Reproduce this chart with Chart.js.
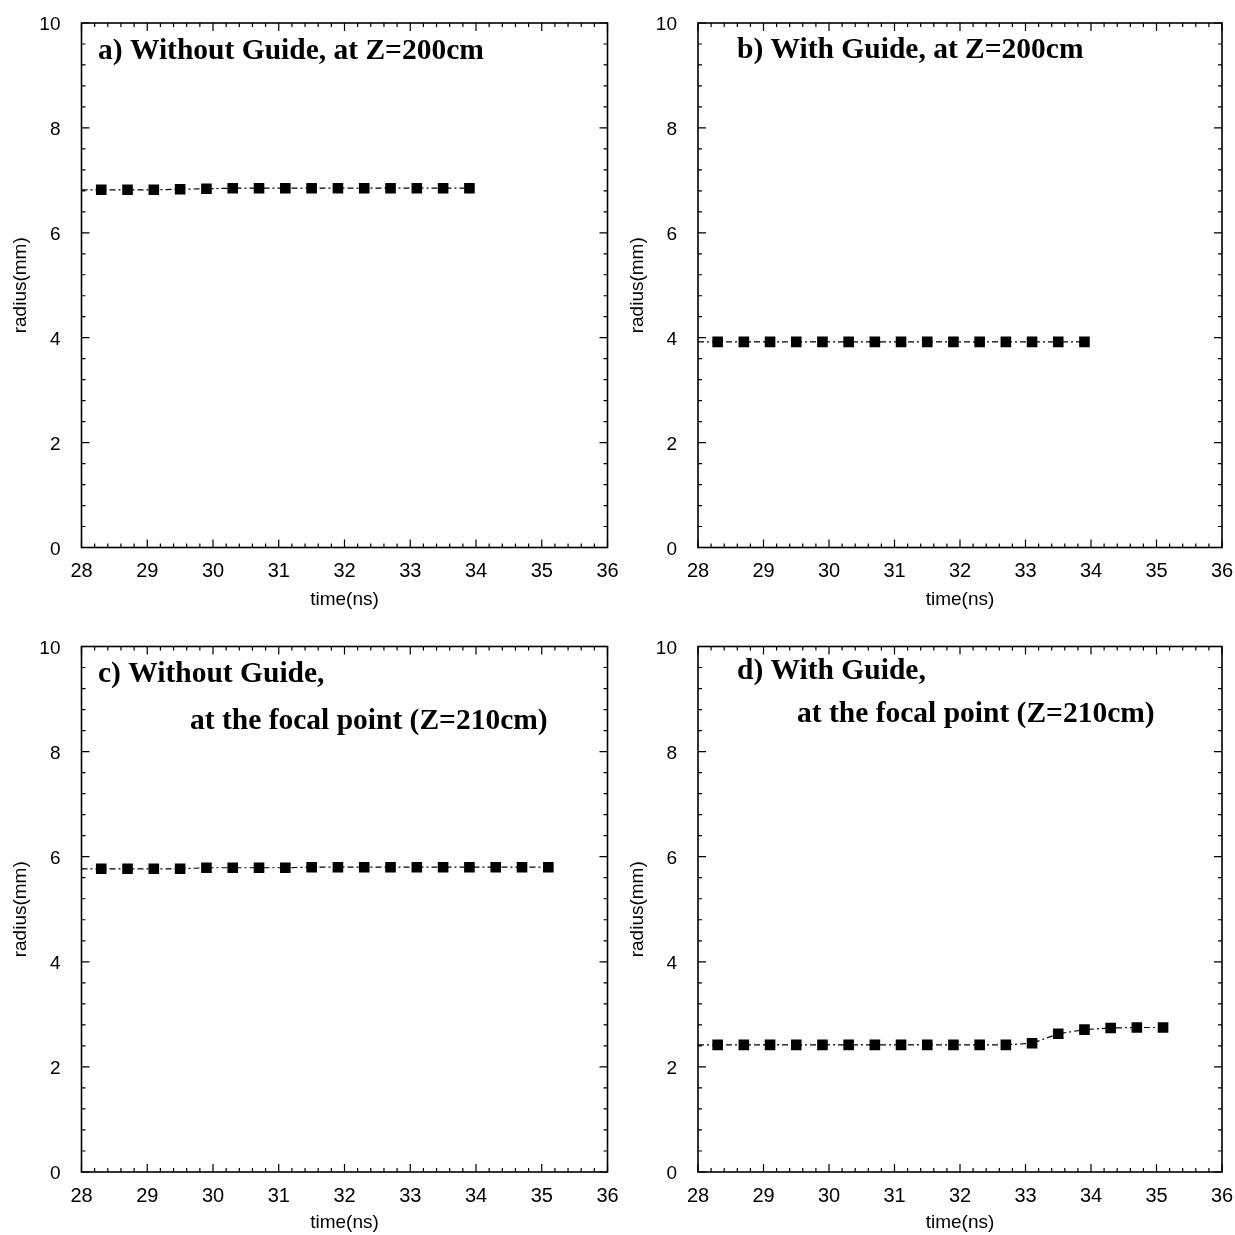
<!DOCTYPE html>
<html>
<head>
<meta charset="utf-8">
<script src="https://cdn.jsdelivr.net/npm/chart.js@4.4.0/dist/chart.umd.min.js"></script>
<style>
  body { margin: 0; background: #fff; }
  canvas { position: absolute; }
</style>
</head>
<body>
<canvas id="pa" width="635" height="617" style="left:0;top:0"></canvas>
<canvas id="pb" width="618" height="617" style="left:617px;top:0"></canvas>
<canvas id="pc" width="635" height="618" style="left:0;top:617px"></canvas>
<canvas id="pd" width="618" height="618" style="left:617px;top:617px"></canvas>
<script>
// time samples (ns); the first one sits on the axis and has no marker
const timeShort = [28.0, 28.3, 28.7, 29.1, 29.5, 29.9, 30.3, 30.7, 31.1, 31.5, 31.9, 32.3, 32.7, 33.1, 33.5, 33.9];
const timeLong = [28.0, 28.3, 28.7, 29.1, 29.5, 29.9, 30.3, 30.7, 31.1, 31.5, 31.9, 32.3, 32.7, 33.1, 33.5, 33.9, 34.3, 34.7, 35.1];

// radius (mm)
const radiusA = [6.82, 6.82, 6.82, 6.82, 6.83, 6.84, 6.85, 6.85, 6.85, 6.85, 6.85, 6.85, 6.85, 6.85, 6.85, 6.85];
const radiusB = [3.92, 3.92, 3.92, 3.92, 3.92, 3.92, 3.92, 3.92, 3.92, 3.92, 3.92, 3.92, 3.92, 3.92, 3.92, 3.92];
const radiusC = [5.77, 5.77, 5.77, 5.77, 5.77, 5.79, 5.79, 5.79, 5.79, 5.80, 5.80, 5.80, 5.80, 5.80, 5.80, 5.80, 5.80, 5.80, 5.80];
const radiusD = [2.42, 2.42, 2.42, 2.42, 2.42, 2.42, 2.42, 2.42, 2.42, 2.42, 2.42, 2.42, 2.42, 2.45, 2.63, 2.71, 2.74, 2.75, 2.75];

const xTicks = [28, 29, 30, 31, 32, 33, 34, 35, 36];
const yTicks = [0, 2, 4, 6, 8, 10];

const titleA = ["a) Without Guide, at Z=200cm"];
const titleB = ["b) With Guide, at Z=200cm"];
const titleC = ["c) Without Guide,", "at the focal point (Z=210cm)"];
const titleD = ["d) With Guide,", "at the focal point (Z=210cm)"];

const sans = '"Liberation Sans", Arial, sans-serif';

// frame + inward ticks on all four sides
const boxTicks = {
    id: 'boxTicks',
    afterDraw(chart) {
        const {ctx, chartArea: a, scales: {x, y}} = chart;
        ctx.save();
        ctx.strokeStyle = '#000';
        ctx.lineWidth = 1.2;
        ctx.beginPath();
        for (let i = 0; i <= 40; i++) {
            const px = x.getPixelForValue(28 + i * 0.2);
            const len = i % 5 === 0 ? 8 : 4;
            ctx.moveTo(px, a.bottom); ctx.lineTo(px, a.bottom - len);
            ctx.moveTo(px, a.top); ctx.lineTo(px, a.top + len);
        }
        for (let i = 0; i <= 25; i++) {
            const py = y.getPixelForValue(i * 0.4);
            const len = i % 5 === 0 ? 8 : 4;
            ctx.moveTo(a.left, py); ctx.lineTo(a.left + len, py);
            ctx.moveTo(a.right, py); ctx.lineTo(a.right - len, py);
        }
        ctx.stroke();
        ctx.lineWidth = 1.6;
        ctx.strokeRect(a.left, a.top, a.right - a.left, a.bottom - a.top);
        ctx.restore();
    }
};

const panelText = {
    id: 'panelText',
    afterDraw(chart, args, opts) {
        const ctx = chart.ctx;
        ctx.save();
        ctx.fillStyle = '#000';
        ctx.font = 'bold 29.5px "Liberation Serif", "Times New Roman", serif';
        ctx.textBaseline = 'alphabetic';
        opts.lines.forEach((t, i) => {
            ctx.fillText(t, opts.pos[i][0], opts.pos[i][1]);
        });
        ctx.restore();
    }
};

function makePanel(id, times, radius, lines, pos, box) {
    const cv = document.getElementById(id);
    const W = cv.width, H = cv.height;
    new Chart(cv, {
        type: 'line',
        data: {
            datasets: [{
                data: times.map((t, i) => ({x: t, y: radius[i]})),
                borderColor: '#000',
                backgroundColor: '#000',
                borderWidth: 1.2,
                borderDash: [6, 3, 2, 3],
                pointStyle: 'rect',
                pointRadius: ctx => ctx.dataIndex === 0 ? 0 : 7.5,
                pointBorderWidth: 0,
                tension: 0
            }]
        },
        options: {
            responsive: false,
            animation: false,
            events: [],
            layout: { padding: { left: 0, top: box.top, right: W - box.right, bottom: 0 } },
            plugins: {
                legend: { display: false },
                tooltip: { enabled: false },
                panelText: { lines: lines, pos: pos }
            },
            scales: {
                x: {
                    type: 'linear',
                    min: 28, max: 36,
                    afterBuildTicks: s => { s.ticks = xTicks.map(v => ({value: v})); },
                    afterFit: s => { s.height = H - box.bottom; s.paddingLeft = 0; s.paddingRight = 0; },
                    grid: { display: false },
                    border: { display: false },
                    ticks: { color: '#000', padding: 4, font: { family: sans, size: 20 } },
                    title: { display: true, text: 'time(ns)', color: '#000', padding: { top: 0, bottom: box.xTitlePad },
                             font: { family: sans, size: 19 } }
                },
                y: {
                    min: 0, max: 10,
                    afterBuildTicks: s => { s.ticks = yTicks.map(v => ({value: v})); },
                    afterFit: s => { s.width = box.left; s.paddingTop = 0; s.paddingBottom = 0; },
                    grid: { display: false },
                    border: { display: false },
                    ticks: { color: '#000', padding: 13, labelOffset: 2, font: { family: sans, size: 19 } },
                    title: { display: true, text: 'radius(mm)', color: '#000', padding: { top: 9, bottom: 0 },
                             font: { family: sans, size: 19 } }
                }
            }
        },
        plugins: [boxTicks, panelText]
    });
}

makePanel('pa', timeShort, radiusA, titleA, [[98, 59]],
          {left: 81.5, right: 607.5, top: 23, bottom: 547.5, xTitlePad: 6});
makePanel('pb', timeShort, radiusB, titleB, [[120, 58]],
          {left: 81, right: 605, top: 23, bottom: 547.5, xTitlePad: 6});
makePanel('pc', timeLong, radiusC, titleC, [[98, 682 - 617], [190, 729 - 617]],
          {left: 81.5, right: 607.5, top: 29.5, bottom: 555, xTitlePad: 1});
makePanel('pd', timeLong, radiusD, titleD, [[120, 679 - 617], [180, 722 - 617]],
          {left: 81, right: 605, top: 29.5, bottom: 555, xTitlePad: 1});
</script>
</body>
</html>
